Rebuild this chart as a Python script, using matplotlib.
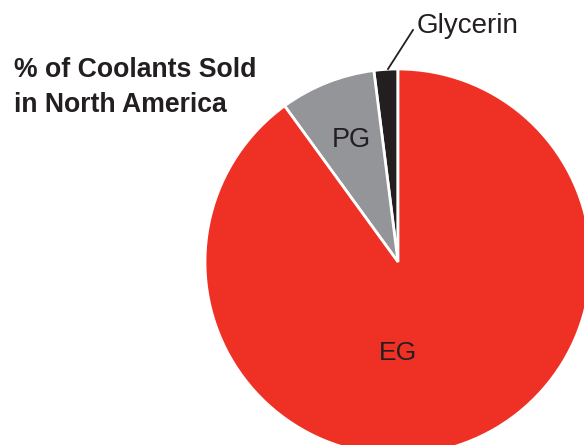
import matplotlib
matplotlib.use("Agg")
import matplotlib.pyplot as plt

labels = ["Glycerin", "PG", "EG"]
values = [2, 8, 90]
colors = ["#231F20", "#939598", "#EE3124"]
title = "% of Coolants Sold\nin North America"

plt.rcParams['font.family'] = ['Liberation Sans', 'DejaVu Sans']

W, H = 584, 445
fig = plt.figure(figsize=(W / 100, H / 100), dpi=100)
ax = fig.add_axes([0, 0, 1, 1])
ax.set_xlim(0, W)
ax.set_ylim(0, H)
ax.set_aspect('equal')
ax.axis('off')

cx, cy, r = 398, H - 262, 193
wedges, _ = ax.pie(values, colors=colors, startangle=90, counterclock=True,
                   center=(cx, cy), radius=r,
                   wedgeprops=dict(edgecolor='white', linewidth=2))
ax.set_xlim(0, W)
ax.set_ylim(0, H)

# slice labels
ax.text(351, H - 140, labels[1], ha='center', va='center', fontsize=19.5, color='#231F20')
ax.text(398, H - 353, labels[2], ha='center', va='center', fontsize=19, color='#231F20')
ax.text(417, H - 33, labels[0], ha='left', va='baseline', fontsize=20, color='#231F20')
ax.plot([388, 413], [H - 69, H - 30], color='#231F20', linewidth=1.3)

ax.text(14, H - 112, title, ha='left', va='baseline', fontsize=19.2,
        fontweight='bold', color='#231F20', linespacing=1.46)
fig.savefig("out.png", dpi=100)
